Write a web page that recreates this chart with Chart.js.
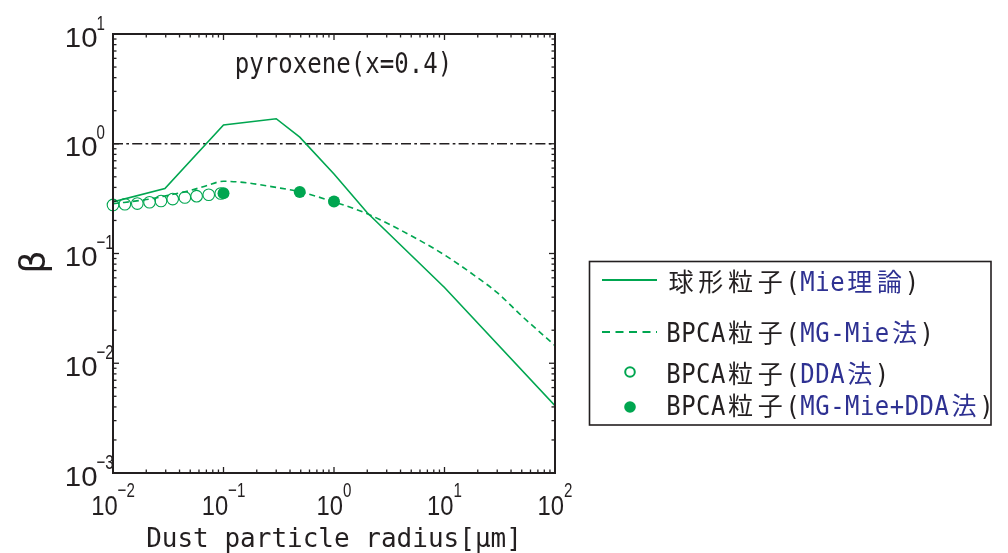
<!DOCTYPE html>
<html><head><meta charset="utf-8">
<script src="https://cdn.jsdelivr.net/npm/chart.js@4"></script>
<style>html,body{margin:0;padding:0;background:#fff}#wrap{width:1008px;height:553px}</style>
</head><body><div id="wrap"><canvas id="c" width="1008" height="553"></canvas></div>
<script>
// ---- data ----
const mieX = [0.01, 0.0295, 0.1, 0.3, 0.49, 1, 2, 10, 100];
const mieY = [0.295, 0.39, 1.48, 1.69, 1.15, 0.53, 0.235, 0.049, 0.0041];
const mgX = [0.01, 0.02, 0.03, 0.05, 0.07, 0.1, 0.15, 0.3, 0.5, 1, 2, 5, 10, 20, 30, 50, 100];
const mgY = [0.284, 0.31, 0.335, 0.375, 0.415, 0.455, 0.445, 0.40, 0.363, 0.295, 0.23, 0.145, 0.097, 0.060, 0.044, 0.027, 0.0145];
const ddaX = [0.01, 0.0128, 0.0166, 0.0214, 0.0272, 0.0347, 0.0447, 0.0571, 0.0735, 0.0944];
const ddaY = [0.277, 0.281, 0.285, 0.293, 0.301, 0.313, 0.324, 0.333, 0.343, 0.352];
const mgddaX = [0.1, 0.49, 1.0];
const mgddaY = [0.354, 0.363, 0.297];
const refX = [0.01, 100];
const refY = [1, 1];

const xMajor = [0.01, 0.1, 1, 10, 100];
const xExp = ['\u22122', '\u22121', '0', '1', '2'];
const yMajor = [0.001, 0.01, 0.1, 1, 10];
const yExp = ['\u22123', '\u22122', '\u22121', '0', '1'];

const legendMain = ['球形粒子', 'BPCA粒子', 'BPCA粒子', 'BPCA粒子'];
const legendSub = ['Mie理論', 'MG-Mie法', 'DDA法', 'MG-Mie+DDA法'];
const titleText = 'pyroxene(x=0.4)';
const xTitle = 'Dust particle radius[\u03bcm]';
const yTitle = '\u03b2';

const GREEN = '#00a650';
const DARK = '#231f20';
const BLUE = '#2e3192';

const pts = (xs, ys) => xs.map((v, i) => ({x: v, y: ys[i]}));

function scaledText(ctx, t, x, y, font, sx, align) {
  ctx.save();
  ctx.font = font;
  const w = ctx.measureText(t).width * sx;
  let left = x;
  if (align === 'center') left = x - w / 2;
  else if (align === 'right') left = x - w;
  ctx.translate(left, y);
  ctx.scale(sx, 1);
  ctx.textAlign = 'left';
  ctx.textBaseline = 'alphabetic';
  ctx.fillText(t, 0, 0);
  ctx.restore();
  return w;
}
function textWidth(ctx, t, font, sx) { ctx.save(); ctx.font = font; const w = ctx.measureText(t).width * sx; ctx.restore(); return w; }

function drawMixed(ctx, x, base, parts) {
  let cx = x;
  parts.forEach(p => {
    for (const ch of p.text) {
      const wide = /[\u3000-\u9fff\uff00-\uffef]/.test(ch);
      const cell = wide ? 29.8 : 14.9;
      ctx.font = wide ? '25px "Noto Sans CJK JP"' : '26px "DejaVu Sans Mono"';
      ctx.fillStyle = p.color;
      ctx.textAlign = 'center';
      ctx.textBaseline = 'alphabetic';
      ctx.save();
      ctx.translate(cx + cell / 2, base);
      if (!wide) ctx.scale(0.92, 1);
      ctx.fillText(ch, 0, 0);
      ctx.restore();
      cx += cell;
    }
  });
}

const overlay = {
  id: 'overlay',
  afterDraw(chart) {
    const ctx = chart.ctx, a = chart.chartArea, xs = chart.scales.x, ys = chart.scales.y;
    ctx.save();
    // frame
    ctx.strokeStyle = DARK; ctx.lineWidth = 2; ctx.setLineDash([]);
    ctx.strokeRect(a.left, a.top, a.right - a.left, a.bottom - a.top);
    // ticks
    ctx.lineWidth = 1.3;
    const tick = (x1, y1, x2, y2) => { ctx.beginPath(); ctx.moveTo(x1, y1); ctx.lineTo(x2, y2); ctx.stroke(); };
    for (let k = 0; k < xMajor.length; k++) {
      const d = xMajor[k];
      const px = xs.getPixelForValue(d);
      tick(px, a.bottom, px, a.bottom - 6); tick(px, a.top, px, a.top + 6);
      if (k < xMajor.length - 1) for (let m = 2; m <= 9; m++) {
        const q = xs.getPixelForValue(d * m);
        tick(q, a.bottom, q, a.bottom - 3.5); tick(q, a.top, q, a.top + 3.5);
      }
    }
    for (let k = 0; k < yMajor.length; k++) {
      const d = yMajor[k];
      const py = ys.getPixelForValue(d);
      tick(a.left, py, a.left + 6, py); tick(a.right, py, a.right - 6, py);
      if (k < yMajor.length - 1) for (let m = 2; m <= 9; m++) {
        const q = ys.getPixelForValue(d * m);
        tick(a.left, q, a.left + 3.5, q); tick(a.right, q, a.right - 3.5, q);
      }
    }
    // tick labels
    ctx.fillStyle = DARK;
    const F10 = '28px "Liberation Sans"', FE = '21px "Liberation Sans"';
    xMajor.forEach((v, i) => {
      const px = xs.getPixelForValue(v);
      const w1 = textWidth(ctx, '10', F10, 0.85), w2 = textWidth(ctx, xExp[i], FE, 0.72);
      const left = px - (w1 + w2) / 2;
      scaledText(ctx, '10', left, 515, F10, 0.85, 'left');
      scaledText(ctx, xExp[i], left + w1, 497, FE, 0.72, 'left');
    });
    yMajor.forEach((v, i) => {
      const py = ys.getPixelForValue(v);
      scaledText(ctx, '10', 97.5, py + 12.5, F10, 1.05, 'right');
      scaledText(ctx, yExp[i], 96.5, py - 4.5, FE, 0.72, 'left');
    });
    // titles
    ctx.fillStyle = DARK;
    scaledText(ctx, titleText, 343.5, 73, '28px "DejaVu Sans Mono"', 0.86, 'center');
    ctx.font = '26px "DejaVu Sans Mono"'; ctx.textAlign = 'center'; ctx.textBaseline = 'alphabetic';
    ctx.fillText(xTitle, (a.left + a.right) / 2, 547);
    ctx.save();
    ctx.translate(44.6, 262); ctx.rotate(-Math.PI / 2);
    ctx.font = '36px "DejaVu Sans"'; ctx.textAlign = 'center';
    ctx.fillText(yTitle, 0, 0);
    ctx.restore();
    // legend
    ctx.strokeStyle = DARK; ctx.lineWidth = 1.6; ctx.setLineDash([]);
    ctx.strokeRect(589.5, 261.5, 401.5, 163.5);
    const bases = [291, 341.5, 382.5, 415];
    const rowY = [280, 332, 372, 407];
    // samples
    ctx.strokeStyle = GREEN; ctx.lineWidth = 2;
    ctx.beginPath(); ctx.moveTo(602, rowY[0]); ctx.lineTo(657, rowY[0]); ctx.stroke();
    ctx.setLineDash([8, 5.5]);
    ctx.beginPath(); ctx.moveTo(602, rowY[1]); ctx.lineTo(657, rowY[1]); ctx.stroke();
    ctx.setLineDash([]);
    ctx.lineWidth = 2;
    ctx.beginPath(); ctx.arc(630, rowY[2], 4.8, 0, Math.PI * 2); ctx.stroke();
    ctx.fillStyle = GREEN;
    ctx.beginPath(); ctx.arc(630, rowY[3], 5.8, 0, Math.PI * 2); ctx.fill();
    for (let i = 0; i < 4; i++) {
      drawMixed(ctx, 666, bases[i], [
        {text: legendMain[i], color: DARK},
        {text: '(', color: DARK},
        {text: legendSub[i], color: BLUE},
        {text: ')', color: DARK}
      ]);
    }
    ctx.restore();
  }
};

new Chart(document.getElementById('c'), {
  type: 'scatter',
  data: {
    datasets: [
      {label: 'ref', data: pts(refX, refY), showLine: true, borderColor: DARK, borderWidth: 1.5,
       borderDash: [10, 3.3, 2.7, 3.2], pointRadius: 0, order: 5},
      {label: legendMain[0] + '(' + legendSub[0] + ')', data: pts(mieX, mieY), showLine: true, borderColor: GREEN,
       borderWidth: 1.6, pointRadius: 0, tension: 0, order: 4},
      {label: legendMain[1] + '(' + legendSub[1] + ')', data: pts(mgX, mgY), showLine: true, borderColor: GREEN,
       borderWidth: 1.6, borderDash: [6, 4], pointRadius: 0, cubicInterpolationMode: 'monotone', tension: 0.3, order: 3},
      {label: legendMain[2] + '(' + legendSub[2] + ')', data: pts(ddaX, ddaY), showLine: false, pointRadius: 5.8,
       pointBorderColor: GREEN, pointBackgroundColor: 'rgba(0,0,0,0)', pointBorderWidth: 1.1, clip: false, order: 2},
      {label: legendMain[3] + '(' + legendSub[3] + ')', data: pts(mgddaX, mgddaY), showLine: false, pointRadius: 6,
       pointBorderColor: GREEN, pointBackgroundColor: GREEN, pointBorderWidth: 0, clip: false, order: 1}
    ]
  },
  options: {
    responsive: false, animation: false, devicePixelRatio: 1,
    layout: {padding: {left: 113, top: 34, right: 453, bottom: 80}},
    scales: {
      x: {type: 'logarithmic', min: 0.01, max: 100, display: false},
      y: {type: 'logarithmic', min: 0.001, max: 10, display: false}
    },
    plugins: {legend: {display: false}, tooltip: {enabled: false}}
  },
  plugins: [overlay]
});
</script>
</body></html>
